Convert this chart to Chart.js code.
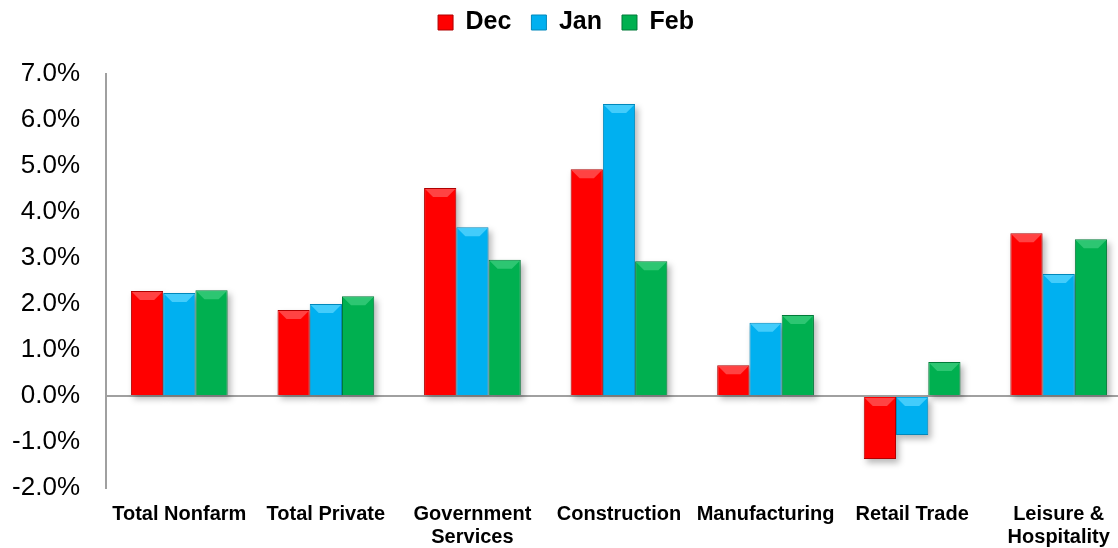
<!DOCTYPE html>
<html>
<head>
<meta charset="utf-8">
<script src="https://cdn.jsdelivr.net/npm/chart.js@4.4.1/dist/chart.umd.min.js"></script>
<style>
  html, body { margin: 0; padding: 0; background: #fff; overflow: hidden; }
  #wrap { width: 1132px; height: 548px; }
</style>
</head>
<body>
<div id="wrap"><canvas id="myChart" width="1132" height="548"></canvas></div>
<script>
const categories = ['Total Nonfarm', 'Total Private', ['Government', 'Services'], 'Construction', 'Manufacturing', 'Retail Trade', ['Leisure &', 'Hospitality']];
const decValues = [2.28, 1.87, 4.52, 4.93, 0.67, -1.37, 3.54];
const janValues = [2.24, 2.00, 3.67, 6.35, 1.59, -0.85, 2.65];
const febValues = [2.30, 2.17, 2.96, 2.93, 1.76, 0.74, 3.41];
const yTicks = [-2, -1, 0, 1, 2, 3, 4, 5, 6, 7];

const fills = ['#FF0000', '#00B0F0', '#00B050'];
const edges = ['#B00000', '#0088BB', '#007A38'];
const lights = ['#FF6060', '#60D8FF', '#40D080'];

// drop shadow under the bars, bevel on top of them
const bevelPlugin = {
    id: 'bevel',
    beforeDatasetsDraw(chart) {
        const ctx = chart.ctx;
        ctx.save();
        ctx.filter = 'blur(3px)';
        ctx.fillStyle = 'rgba(0,0,0,0.28)';
        chart.data.datasets.forEach((ds, i) => {
            chart.getDatasetMeta(i).data.forEach(bar => {
                const left = bar.x - bar.width / 2;
                const top = Math.min(bar.y, bar.base);
                const h = Math.abs(bar.base - bar.y);
                ctx.fillRect(left + 3, top + 4, bar.width, h);
            });
        });
        ctx.restore();
    },
    afterDatasetsDraw(chart) {
        const ctx = chart.ctx;
        chart.data.datasets.forEach((ds, i) => {
            chart.getDatasetMeta(i).data.forEach(bar => {
                const left = bar.x - bar.width / 2;
                const right = bar.x + bar.width / 2;
                const top = Math.min(bar.y, bar.base);
                const h = Math.abs(bar.base - bar.y);
                const b = Math.min(9, h / 2);
                ctx.save();
                ctx.fillStyle = lights[i];
                ctx.globalAlpha = 0.7;
                ctx.beginPath();
                ctx.moveTo(left + 1, top + 1);
                ctx.lineTo(right - 1, top + 1);
                ctx.lineTo(right - b, top + b);
                ctx.lineTo(left + b, top + b);
                ctx.closePath();
                ctx.fill();
                ctx.restore();
            });
        });
    }
};

// extra room under the legend
const legendSpace = {
    id: 'legendSpace',
    beforeInit(chart) {
        const origFit = chart.legend.fit;
        chart.legend.fit = function () {
            origFit.bind(chart.legend)();
            this.height = 84;
        };
    }
};

const ctx = document.getElementById('myChart');
Chart.defaults.font.family = "'Liberation Sans', Arial, sans-serif";
Chart.defaults.color = '#000000';

let chartJsData = {
    labels: categories,
    datasets: [
        { label: 'Dec', data: decValues, backgroundColor: fills[0], borderColor: edges[0], borderWidth: 1 },
        { label: 'Jan', data: janValues, backgroundColor: fills[1], borderColor: edges[1], borderWidth: 1 },
        { label: 'Feb', data: febValues, backgroundColor: fills[2], borderColor: edges[2], borderWidth: 1 }
    ]
};

let chartJsOptions = {
    responsive: false,
    animation: false,
    layout: { padding: { top: -10, left: 0, right: 0, bottom: 0 } },
    datasets: {
        bar: { categoryPercentage: 0.66, barPercentage: 1.0 }
    },
    scales: {
        x: {
            grid: { display: false },
            border: { display: false },
            afterFit(scale) { scale.height = 60; },
            ticks: {
                font: { size: 20, weight: 'bold', lineHeight: 1.15 },
                color: '#000',
                maxRotation: 0,
                autoSkip: false,
                padding: 7
            }
        },
        y: {
            min: -2,
            max: 7,
            afterBuildTicks(axis) {
                axis.ticks = yTicks.map(v => ({ value: v }));
            },
            afterFit(scale) { scale.width = 106; },
            grid: {
                drawTicks: false,
                lineWidth: 2,
                color: c => c.tick && c.tick.value === 0 ? '#A0A0A0' : 'rgba(0,0,0,0)'
            },
            border: { display: true, color: '#A0A0A0', width: 2 },
            ticks: {
                font: { size: 26 },
                color: '#000',
                padding: 26,
                callback: v => v.toFixed(1) + '%'
            }
        }
    },
    plugins: {
        legend: {
            position: 'top',
            labels: {
                boxWidth: 15,
                boxHeight: 15,
                padding: 20,
                font: { size: 25, weight: 'bold' },
                color: '#000'
            }
        },
        tooltip: { enabled: false }
    }
};

new Chart(ctx, {
    type: 'bar',
    data: chartJsData,
    options: chartJsOptions,
    plugins: [bevelPlugin, legendSpace]
});
</script>
</body>
</html>
